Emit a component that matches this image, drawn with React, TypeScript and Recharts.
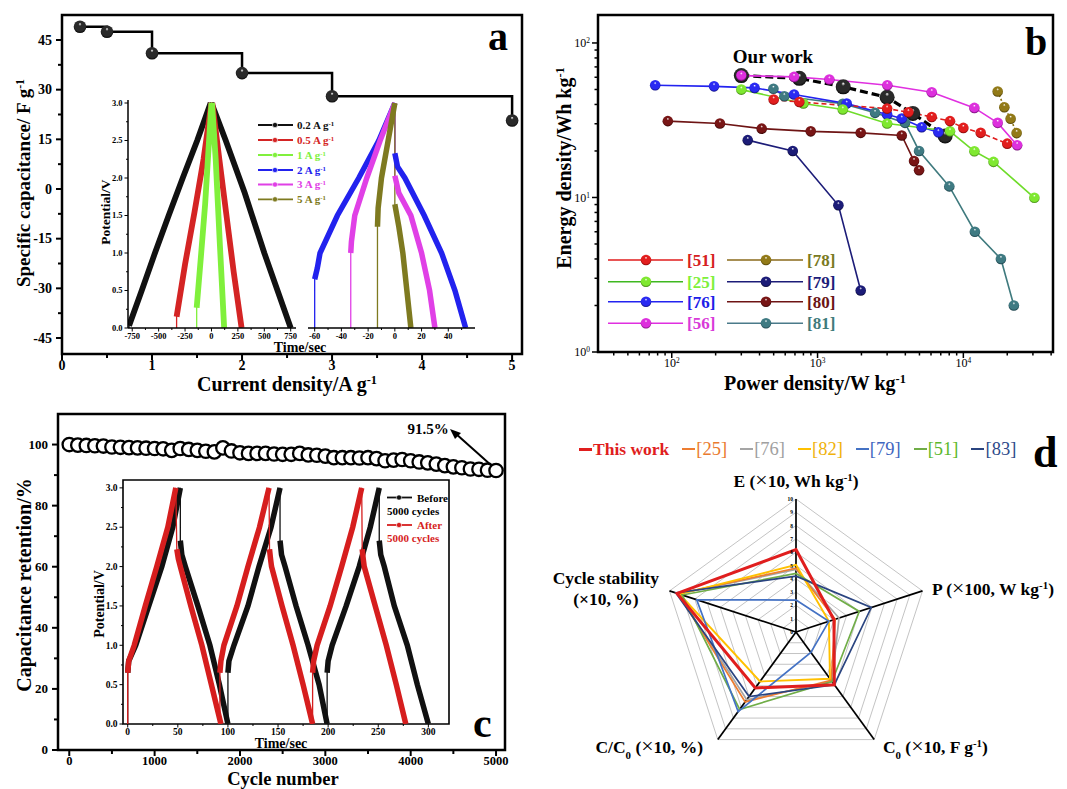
import React from 'react';
import {
  LineChart, Line, XAxis, YAxis, ReferenceArea,
  RadarChart, Radar, PolarGrid, PolarAngleAxis, PolarRadiusAxis,
} from 'recharts';

const SERIF = '"Liberation Serif", "Times New Roman", serif';

type P = [number, number];

/* ---------- (a) rate capability ---------- */
const currentDensity = [0.2, 0.5, 1, 2, 3, 5];
const specificCap = [49, 47.5, 41, 35, 28, 20.7];
const aXTicks = [0, 0.5, 1, 1.5, 2, 2.5, 3, 3.5, 4, 4.5, 5];
const aXMajor = [0, 1, 2, 3, 4, 5];
const aYTicks = [-45, -37.5, -30, -22.5, -15, -7.5, 0, 7.5, 15, 22.5, 30, 37.5, 45];
const aYMajor = [-45, -30, -15, 0, 15, 30, 45];

/* inset of (a): GCD curves, [time s, potential V] */
const gcdRates = ['0.2', '0.5', '1', '2', '3', '5'];
const gcd02Charge: P[] = [[-780, 0.03], [-660, 0.5], [-535, 1.0], [-405, 1.5], [-272, 2.0], [-135, 2.5], [-8, 3.0]];
const gcd02Discharge: P[] = [[0, 3.0], [135, 2.5], [315, 1.8], [500, 1.0], [750, 0.0]];
const gcd05Charge: P[] = [[-330, 0.15], [-250, 0.85], [-160, 1.55], [-75, 2.25], [0, 3.0]];
const gcd05Discharge: P[] = [[8, 3.0], [70, 2.3], [142, 1.5], [210, 0.75], [285, 0.0]];
const gcd1Charge: P[] = [[-140, 0.27], [-100, 0.95], [-60, 1.65], [-25, 2.45], [0, 3.0]];
const gcd1Discharge: P[] = [[5, 3.0], [40, 2.25], [80, 1.1], [120, 0.0]];
const gcd2Charge: P[] = [[-60, 0.65], [-58, 0.8], [-56, 1.0], [-43, 1.5], [-27, 2.0], [-12, 2.5], [0, 3.0]];
const gcd2Discharge: P[] = [[0, 2.33], [2, 2.15], [7.5, 2.0], [22, 1.5], [35, 1.0], [45, 0.5], [53, 0.0]];
const gcd3Charge: P[] = [[-33, 1.0], [-32.5, 1.15], [-30, 1.5], [-21, 2.0], [-11, 2.5], [0, 3.0]];
const gcd3Discharge: P[] = [[0, 2.03], [3, 1.8], [12, 1.5], [20, 1.0], [26, 0.5], [30, 0.0]];
const gcd5Charge: P[] = [[-13, 1.35], [-12.5, 1.6], [-10, 2.0], [-5, 2.5], [0, 3.0]];
const gcd5Discharge: P[] = [[0, 1.65], [3, 1.35], [6, 1.0], [9, 0.5], [12, 0.0]];
const insetLTicks = [-750, -625, -500, -375, -250, -125, 0, 125, 250, 375, 500, 625, 750];
const insetLMajor = [-750, -500, -250, 0, 250, 500, 750];
const insetRTicks = [-60, -50, -40, -30, -20, -10, 0, 10, 20, 30, 40, 50];
const insetRMajor = [-60, -40, -20, 0, 20, 40];
const potTicks = [0, 0.25, 0.5, 0.75, 1, 1.25, 1.5, 1.75, 2, 2.25, 2.5, 2.75, 3];
const potMajor = [0, 0.5, 1, 1.5, 2, 2.5, 3];

/* ---------- (b) Ragone plot, [W kg-1, Wh kg-1] ---------- */
const ourWork: P[] = [[300, 61.5], [750, 59], [1500, 52], [3000, 44.5], [4500, 35], [7500, 25]];
const ref51: P[] = [[500, 43], [750, 41.5], [3000, 37.6], [4200, 35.6], [6070, 33.2], [8100, 31.2], [10000, 28.2], [13150, 26.2], [20000, 22.3]];
const ref25: P[] = [[300, 49.9], [800, 40.6], [1490, 37.1], [3000, 30.1], [8100, 26.8], [11900, 19.9], [16100, 17], [30700, 9.95]];
const ref76: P[] = [[77, 53.2], [195, 52.4], [370, 51.2], [690, 46.4], [1585, 40.5], [3000, 34.4], [3780, 32.4], [5180, 28.5], [6740, 26.4]];
const ref56: P[] = [[300, 61.5], [690, 60.3], [1205, 58], [3010, 53.3], [6070, 48], [11900, 38], [17200, 30.4], [23400, 21.8]];
const ref78: P[] = [[17200, 48.5], [19100, 38.4], [21100, 32.3], [23200, 26.1]];
const ref79: P[] = [[332, 23.5], [676, 20], [1390, 8.9], [1977, 2.5]];
const ref80: P[] = [[94, 31.2], [214, 30.1], [414, 27.9], [898, 26.8], [1977, 26.2], [3780, 25.2], [4590, 17.2], [4970, 15]];
const ref81: P[] = [[498, 50.5], [592, 45.2], [1490, 40.4], [2480, 35.3], [3980, 30.4], [4970, 20], [8010, 11.8], [12000, 6], [18100, 4], [22200, 2]];
const bXTicks = [40, 50, 60, 70, 80, 90, 100, 200, 300, 400, 500, 600, 700, 800, 900, 1000, 2000, 3000, 4000, 5000, 6000, 7000, 8000, 9000, 10000, 20000, 30000, 40000];
const bXMajor = [100, 1000, 10000];
const bYTicks = [1, 2, 3, 4, 5, 6, 7, 8, 9, 10, 20, 30, 40, 50, 60, 70, 80, 90, 100];
const bYMajor = [1, 10, 100];

/* ---------- (c) cycling ---------- */
const cycleNo = [0, 100, 200, 300, 400, 500, 600, 700, 800, 900, 1000, 1100, 1200, 1300, 1400, 1500, 1600, 1700, 1800, 1900, 2000, 2100, 2200, 2300, 2400, 2500, 2600, 2700, 2800, 2900, 3000, 3100, 3200, 3300, 3400, 3500, 3600, 3700, 3800, 3900, 4000, 4100, 4200, 4300, 4400, 4500, 4600, 4700, 4800, 4900, 5000];
const retention = [100, 99.8, 99.7, 99.6, 99.5, 99.2, 99.1, 99.0, 98.9, 98.8, 98.7, 98.6, 98.1, 98.7, 98.4, 98.1, 97.8, 97.6, 98.9, 97.9, 97.3, 97.1, 97.1, 97.1, 96.9, 96.8, 96.8, 97.1, 96.6, 96.5, 96.2, 95.7, 95.7, 95.7, 95.6, 95.7, 95.4, 94.7, 94.9, 95.1, 94.7, 94.3, 94.0, 93.6, 93.1, 92.7, 92.4, 92.0, 91.9, 91.6, 91.5];
const cXTicks = [0, 500, 1000, 1500, 2000, 2500, 3000, 3500, 4000, 4500, 5000];
const cXMajor = [0, 1000, 2000, 3000, 4000, 5000];
const cYTicks = [0, 10, 20, 30, 40, 50, 60, 70, 80, 90, 100];
const cYMajor = [0, 20, 40, 60, 80, 100];

/* inset of (c): GCD before / after 5000 cycles, [time s, potential V] */
const before1Charge: P[] = [[0, 0.65], [1, 0.8], [8, 1.0], [21, 1.5], [34, 2.0], [45, 2.5], [52.5, 3.0]];
const before1Discharge: P[] = [[52.5, 2.33], [54, 2.15], [57.5, 2.0], [70, 1.5], [82, 1.0], [91.5, 0.5], [100, 0]];
const before2Charge: P[] = [[100, 0.65], [101, 0.8], [106, 1.0], [120, 1.5], [131, 2.0], [143, 2.5], [152, 3.0]];
const before2Discharge: P[] = [[152, 2.33], [153.5, 2.15], [157, 2.0], [168, 1.5], [180, 1.0], [191, 0.5], [199, 0]];
const before3Charge: P[] = [[199, 0.65], [200, 0.8], [204, 1.0], [218, 1.5], [231, 2.0], [242, 2.5], [251, 3.0]];
const before3Discharge: P[] = [[251, 2.33], [252.5, 2.15], [256, 2.0], [266, 1.5], [279, 1.0], [289, 0.5], [300, 0]];
const after1Charge: P[] = [[0, 0.65], [1, 0.8], [6.5, 1.0], [17.5, 1.5], [29, 2.0], [40, 2.5], [48, 3.0]];
const after1Discharge: P[] = [[49, 2.22], [50.5, 2.1], [52.5, 2.0], [63, 1.5], [74, 1.0], [83.5, 0.5], [93, 0]];
const after2Charge: P[] = [[92, 0.65], [93, 0.8], [96, 1.0], [109, 1.5], [120, 2.0], [131.5, 2.5], [141, 3.0]];
const after2Discharge: P[] = [[141.5, 2.22], [142.5, 2.1], [143.5, 2.0], [154, 1.5], [165, 1.0], [175, 0.5], [184.5, 0]];
const after3Charge: P[] = [[184.5, 0.65], [185.5, 0.8], [189, 1.0], [202, 1.5], [213.5, 2.0], [224.5, 2.5], [233.5, 3.0]];
const after3Discharge: P[] = [[234, 2.22], [235, 2.1], [236, 2.0], [247, 1.5], [258, 1.0], [268, 0.5], [277.5, 0]];
const icXTicks = [0, 25, 50, 75, 100, 125, 150, 175, 200, 225, 250, 275, 300];
const icXMajor = [0, 50, 100, 150, 200, 250, 300];

/* ---------- (d) radar ---------- */
const radarAxes = ['E', 'P', 'C0', 'C/C0', 'CS'];
const rThisWork = [6.2, 3.0, 4.9, 5.2, 9.4];
const r25 = [4.8, 3.1, 4.5, 6.5, 9.3];
const r76 = [4.7, 3.4, 4.6, 6.3, 9.3];
const r82 = [5.05, 2.6, 4.35, 4.6, 9.2];
const r79 = [2.4, 2.6, 1.9, 7.4, 7.85];
const r51 = [4.4, 5.0, 4.6, 7.2, 9.0];
const r83 = [4.2, 5.95, 4.9, 6.0, 9.5];
const radarTicks = [0, 1, 2, 3, 4, 5, 6, 7, 8, 9, 10];

/* ---------- helpers ---------- */
const pts = (a: P[]) => a.map(([t, v]) => ({ t, v } as { t: number; v: number | null }));
const thin = (c: P[], d: P[]) => pts([[c[0][0], 0], ...c, ...d]);
const thick = (c: P[], d: P[]) => [...pts(c), { t: c[c.length - 1][0], v: null }, ...pts(d)];
const cyclesThin = (cy: P[][][]) => cy.flatMap(([c, d]) => thin(c, d));
const cyclesThick = (cy: P[][][]) => cy.flatMap(([c, d]) => [...thick(c, d), { t: d[d.length - 1][0], v: null }]);
const pe = (a: P[]) => a.map(([p, e]) => ({ p, e }));
const isIn = (arr: number[], v: number) => arr.some((m) => Math.abs(m - v) < 1e-6);

const capData = currentDensity.map((x, i) => ({ x, c: specificCap[i] }));
const retData = cycleNo.map((n, i) => ({ n, r: retention[i] }));
const radarData = radarAxes.map((a, i) => ({
  axis: a, tw: rThisWork[i], r25: r25[i], r76: r76[i], r82: r82[i], r79: r79[i], r51: r51[i], r83: r83[i],
}));

const gcdLeft = [
  { c: gcd02Charge, d: gcd02Discharge, color: '#111111' },
  { c: gcd05Charge, d: gcd05Discharge, color: '#d42424' },
  { c: gcd1Charge, d: gcd1Discharge, color: '#80f03c' },
];
const gcdRight = [
  { c: gcd2Charge, d: gcd2Discharge, color: '#2222ee' },
  { c: gcd3Charge, d: gcd3Discharge, color: '#e040e6' },
  { c: gcd5Charge, d: gcd5Discharge, color: '#7e7a20' },
];
const gcdColors = ['#111111', '#d42424', '#80f03c', '#2222ee', '#e040e6', '#7e7a20'];

const beforeCycles = [[before1Charge, before1Discharge], [before2Charge, before2Discharge], [before3Charge, before3Discharge]];
const afterCycles = [[after1Charge, after1Discharge], [after2Charge, after2Discharge], [after3Charge, after3Discharge]];

const palette: Record<string, [string, string]> = {
  black: ['#2a2a2a', '#000000'],
  red: ['#e21e1e', '#700000'],
  green: ['#7fe830', '#2e6a08'],
  blue: ['#2a2af2', '#08086a'],
  magenta: ['#dd30dd', '#600060'],
  olive: ['#927a18', '#3c3000'],
  navy: ['#1c1c78', '#05052a'],
  maroon: ['#781616', '#2a0000'],
  teal: ['#3f7a82', '#10303a'],
};

const bSeries = [
  { name: 'Our work', data: ourWork, line: '#000', w: 3.2, dash: '8 4', ball: 'black', r: 7.5 },
  { name: '[80]', data: ref80, line: '#6e1414', w: 1.6, dash: undefined, ball: 'maroon', r: 5.3 },
  { name: '[79]', data: ref79, line: '#1c1c78', w: 1.6, dash: undefined, ball: 'navy', r: 5.3 },
  { name: '[81]', data: ref81, line: '#3f7a7e', w: 1.6, dash: undefined, ball: 'teal', r: 5.3 },
  { name: '[76]', data: ref76, line: '#2323f0', w: 1.6, dash: undefined, ball: 'blue', r: 5.3 },
  { name: '[25]', data: ref25, line: '#6fdc2a', w: 1.6, dash: undefined, ball: 'green', r: 5.3 },
  { name: '[51]', data: ref51, line: '#e01c1c', w: 1.6, dash: '5 3', ball: 'red', r: 5.3 },
  { name: '[78]', data: ref78, line: '#8a7416', w: 1.6, dash: '2 2', ball: 'olive', r: 5.3 },
  { name: '[56]', data: ref56, line: '#e030e0', w: 1.6, dash: undefined, ball: 'magenta', r: 5.3 },
];
const bLegend = [
  { name: '[51]', line: '#e01c1c', ball: 'red', text: '#d62020' },
  { name: '[25]', line: '#3fb820', ball: 'green', text: '#7ef03a' },
  { name: '[76]', line: '#2323f0', ball: 'blue', text: '#2020e8' },
  { name: '[56]', line: '#e030e0', ball: 'magenta', text: '#d83ad8' },
  { name: '[78]', line: '#8a6a1a', ball: 'olive', text: '#7a7a22' },
  { name: '[79]', line: '#1c1c78', ball: 'navy', text: '#1e1e7a' },
  { name: '[80]', line: '#6e1414', ball: 'maroon', text: '#6b1515' },
  { name: '[81]', line: '#4a7a8a', ball: 'teal', text: '#3f7b7b' },
];

const radarSeries = [
  { key: 'r76', name: '[76]', color: '#a5a5a5', text: '#a0a0a0', w: 1.7 },
  { key: 'r25', name: '[25]', color: '#ed7d31', text: '#ea7a2e', w: 1.7 },
  { key: 'r82', name: '[82]', color: '#ffc000', text: '#f0b20a', w: 1.9 },
  { key: 'r51', name: '[51]', color: '#70ad47', text: '#5cb82c', w: 1.7 },
  { key: 'r79', name: '[79]', color: '#4472c4', text: '#3f66c0', w: 1.7 },
  { key: 'r83', name: '[83]', color: '#2a4480', text: '#2e4a8a', w: 1.7 },
  { key: 'tw', name: 'This work', color: '#e01e1e', text: '#e01e1e', w: 3 },
];
const radarLegendOrder = ['tw', 'r25', 'r76', 'r82', 'r79', 'r51', 'r83'];

/* ---------- tick renderers ---------- */
type TickCfg = { majors: number[]; fs: number; len?: number; minorLen?: number; sw?: number; weight?: string; gap?: number; fmt?: (v: number) => React.ReactNode };

const BottomTick = (cfg: TickCfg) => (p: any) => {
  const v = p.payload.value;
  const major = isIn(cfg.majors, v);
  const len = cfg.len ?? 6;
  return (
    <g>
      <line x1={p.x} x2={p.x} y1={p.y} y2={p.y + (major ? len : cfg.minorLen ?? len / 2)} stroke="#000" strokeWidth={cfg.sw ?? 1.5} />
      {major && (
        <text x={p.x} y={p.y + len + (cfg.gap ?? 2) + cfg.fs * 0.72} textAnchor="middle" fontFamily={SERIF} fontSize={cfg.fs} fontWeight={cfg.weight ?? 'bold'} fill="#000">
          {cfg.fmt ? cfg.fmt(v) : v}
        </text>
      )}
    </g>
  );
};

const LeftTick = (cfg: TickCfg) => (p: any) => {
  const v = p.payload.value;
  const major = isIn(cfg.majors, v);
  const len = cfg.len ?? 6;
  return (
    <g>
      <line x1={p.x} x2={p.x - (major ? len : cfg.minorLen ?? len / 2)} y1={p.y} y2={p.y} stroke="#000" strokeWidth={cfg.sw ?? 1.5} />
      {major && (
        <text x={p.x - len - (cfg.gap ?? 3)} y={p.y + cfg.fs * 0.34} textAnchor="end" fontFamily={SERIF} fontSize={cfg.fs} fontWeight={cfg.weight ?? 'bold'} fill="#000">
          {cfg.fmt ? cfg.fmt(v) : v}
        </text>
      )}
    </g>
  );
};

const Sup = ({ c }: { c: string }) => <tspan baselineShift="super" fontSize="62%">{c}</tspan>;
const Sub = ({ c }: { c: string }) => <tspan baselineShift="sub" fontSize="62%">{c}</tspan>;
const Times = () => <tspan fontWeight="normal" fontSize="125%">×</tspan>;
const logFmt = (v: number) => <>10<Sup c={String(Math.round(Math.log10(v)))} /></>;
const fix1 = (v: number) => v.toFixed(1);

const BallDot = (id: string, r: number) => (p: any) =>
  p.cx == null || p.cy == null ? <g key={p.index} /> : <circle key={p.index} cx={p.cx} cy={p.cy} r={r} fill={`url(#ball-${id})`} />;

const HollowDot = (p: any) =>
  p.cx == null ? <g key={p.index} /> : <circle key={p.index} cx={p.cx} cy={p.cy} r={6.7} fill="#fff" stroke="#000" strokeWidth={2.3} />;

const abs = (left: number, top: number): React.CSSProperties => ({ position: 'absolute', left, top });
const noTick = { tickSize: 0, tickMargin: 0, tickLine: false, interval: 0 as const, allowDataOverflow: true };

/* ---------- panels ---------- */
const PanelA = () => (
  <div style={abs(0, 0)}>
    <LineChart width={540} height={400} data={capData} margin={{ top: 15, right: 18, bottom: 0, left: 0 }}>
      <XAxis dataKey="x" type="number" domain={[0, 5.11]} ticks={aXTicks} height={46} axisLine={false} {...noTick}
        tick={BottomTick({ majors: aXMajor, fs: 14, len: 6, minorLen: 4, sw: 2, gap: 0 })} />
      <YAxis type="number" domain={[-49.83, 52.55]} ticks={aYTicks} width={62} axisLine={false} {...noTick}
        tick={LeftTick({ majors: aYMajor, fs: 14, len: 6, minorLen: 4, sw: 2, gap: 4 })} />
      <ReferenceArea x1={0} x2={5.11} y1={-49.83} y2={52.55} fill="none" stroke="#000" strokeWidth={2.5} ifOverflow="visible" />
      <Line type="stepAfter" dataKey="c" stroke="#000" strokeWidth={2.5} dot={BallDot('black', 6.3)} isAnimationActive={false} />
    </LineChart>
  </div>
);

const InsetA = () => (
  <>
    <div style={abs(90, 90)}>
      <LineChart width={215} height={262} margin={{ top: 10, right: 9, bottom: 0, left: 0 }}>
        <XAxis dataKey="t" type="number" domain={[-790, 800]} ticks={insetLTicks} height={24} {...noTick}
          axisLine={{ stroke: '#000', strokeWidth: 1.5 }}
          tick={BottomTick({ majors: insetLMajor, fs: 8.5, len: 3.5, minorLen: 2, sw: 1, gap: 1 })} />
        <YAxis type="number" domain={[0, 3.04]} ticks={potTicks} width={38} {...noTick}
          axisLine={{ stroke: '#000', strokeWidth: 1.5 }}
          tick={LeftTick({ majors: potMajor, fs: 8.5, len: 3.5, minorLen: 2, sw: 1, gap: 2, fmt: fix1 })} />
        {gcdLeft.map((s, i) => (
          <Line key={'thin' + i} data={thin(s.c, s.d)} dataKey="v" stroke={s.color} strokeWidth={1.3} dot={false} isAnimationActive={false} />
        ))}
        {gcdLeft.map((s, i) => (
          <Line key={'thick' + i} data={thick(s.c, s.d)} dataKey="v" stroke={s.color} strokeWidth={5.8} dot={false} isAnimationActive={false} />
        ))}
      </LineChart>
    </div>
    <div style={abs(300, 90)}>
      <LineChart width={185} height={262} margin={{ top: 10, right: 10, bottom: 0, left: 8 }}>
        <XAxis dataKey="t" type="number" domain={[-65, 60]} ticks={insetRTicks} height={24} {...noTick}
          axisLine={{ stroke: '#000', strokeWidth: 1.5 }}
          tick={BottomTick({ majors: insetRMajor, fs: 8.5, len: 3.5, minorLen: 2, sw: 1, gap: 1 })} />
        <YAxis type="number" domain={[0, 3.04]} hide allowDataOverflow />
        {gcdRight.map((s, i) => (
          <Line key={'thin' + i} data={thin(s.c, s.d)} dataKey="v" stroke={s.color} strokeWidth={1.3} dot={false} isAnimationActive={false} />
        ))}
        {gcdRight.map((s, i) => (
          <Line key={'thick' + i} data={thick(s.c, s.d)} dataKey="v" stroke={s.color} strokeWidth={5.5} dot={false} isAnimationActive={false} />
        ))}
      </LineChart>
    </div>
  </>
);

const PanelB = () => (
  <div style={abs(540, 0)}>
    <LineChart width={527} height={400} margin={{ top: 15, right: 14, bottom: 0, left: 0 }}>
      <XAxis dataKey="p" type="number" scale="log" domain={[31.2, 41200]} ticks={bXTicks} height={48} axisLine={false} {...noTick}
        tick={BottomTick({ majors: bXMajor, fs: 12, len: 6, minorLen: 3.5, sw: 1.5, gap: 0, weight: 'normal', fmt: logFmt })} />
      <YAxis type="number" scale="log" domain={[1, 151.7]} ticks={bYTicks} width={58} axisLine={false} {...noTick}
        tick={LeftTick({ majors: bYMajor, fs: 12, len: 6, minorLen: 3.5, sw: 1.5, gap: 2, weight: 'normal', fmt: logFmt })} />
      <ReferenceArea x1={31.2} x2={41200} y1={1} y2={151.7} fill="none" stroke="#000" strokeWidth={2.5} ifOverflow="visible" />
      {bSeries.map((s) => (
        <Line key={s.name} name={s.name} data={pe(s.data)} dataKey="e" stroke={s.line} strokeWidth={s.w} strokeDasharray={s.dash}
          dot={BallDot(s.ball, s.r)} isAnimationActive={false} />
      ))}
    </LineChart>
  </div>
);

const PanelC = () => (
  <div style={abs(0, 400)}>
    <LineChart width={540} height={389} data={retData} margin={{ top: 14, right: 35, bottom: 0, left: 0 }}>
      <XAxis dataKey="n" type="number" domain={[-132, 5105]} ticks={cXTicks} height={39} axisLine={false} {...noTick}
        tick={BottomTick({ majors: cXMajor, fs: 12.5, len: 6, minorLen: 4, sw: 2, gap: 0 })} />
      <YAxis type="number" domain={[0, 110]} ticks={cYTicks} width={58} axisLine={false} {...noTick}
        tick={LeftTick({ majors: cYMajor, fs: 13, len: 6, minorLen: 4, sw: 2, gap: 4 })} />
      <ReferenceArea x1={-132} x2={5105} y1={0} y2={110} fill="none" stroke="#000" strokeWidth={2.5} ifOverflow="visible" />
      <Line dataKey="r" stroke="none" dot={HollowDot} isAnimationActive={false} />
    </LineChart>
  </div>
);

const InsetC = () => (
  <div style={abs(80, 470)}>
    <LineChart width={380} height={280} margin={{ top: 10, right: 11, bottom: 0, left: 0 }}>
      <XAxis dataKey="t" type="number" domain={[-4.7, 320.6]} ticks={icXTicks} height={26} axisLine={false} {...noTick}
        tick={BottomTick({ majors: icXMajor, fs: 9.5, len: 3.5, minorLen: 2, sw: 1, gap: 1 })} />
      <YAxis type="number" domain={[0, 3.1]} ticks={potTicks} width={43} axisLine={false} {...noTick}
        tick={LeftTick({ majors: potMajor, fs: 9.5, len: 3.5, minorLen: 2, sw: 1, gap: 2, fmt: fix1 })} />
      <ReferenceArea x1={-4.7} x2={320.6} y1={0} y2={3.1} fill="none" stroke="#000" strokeWidth={1.6} ifOverflow="visible" />
      <Line data={cyclesThin(beforeCycles)} dataKey="v" stroke="#111" strokeWidth={1.3} dot={false} isAnimationActive={false} />
      <Line data={cyclesThick(beforeCycles)} dataKey="v" stroke="#111" strokeWidth={5.5} dot={false} isAnimationActive={false} />
      <Line data={cyclesThin(afterCycles)} dataKey="v" stroke="#d61e1e" strokeWidth={1.3} dot={false} isAnimationActive={false} />
      <Line data={cyclesThick(afterCycles)} dataKey="v" stroke="#d61e1e" strokeWidth={5.5} dot={false} isAnimationActive={false} />
    </LineChart>
  </div>
);

const RadarLabel = (p: any) => {
  const v = p.payload.value;
  const st = { fontFamily: SERIF, fontWeight: 'bold' as const, fontSize: 17.5, fill: '#000' };
  if (v === 'E') return <text x={p.x} y={p.y - 4} textAnchor="middle" {...st}>E (<Times />10, Wh kg<Sup c="-1" />)</text>;
  if (v === 'P') return <text x={p.x + 2} y={p.y + 7} textAnchor="start" {...st}>P (<Times />100, W kg<Sup c="-1" />)</text>;
  if (v === 'C0') return <text x={p.x + 4} y={p.y + 7} textAnchor="start" {...st}>C<Sub c="0" /> (<Times />10, F g<Sup c="-1" />)</text>;
  if (v === 'C/C0') return <text x={p.x - 10} y={p.y + 7} textAnchor="end" {...st}>C/C<Sub c="0" /> (<Times />10, %)</text>;
  return (
    <text textAnchor="middle" {...st}>
      <tspan x={p.x - 56} y={p.y - 4}>Cycle stability</tspan>
      <tspan x={p.x - 56} y={p.y + 17}>(×10, %)</tspan>
    </text>
  );
};

const PanelD = () => (
  <div style={abs(540, 430)}>
    <RadarChart width={527} height={359} data={radarData} cx={256} cy={202} outerRadius={133}>
      <PolarGrid gridType="polygon" stroke="#c4c4c4" strokeWidth={1} radialLines={false} />
      <PolarGrid gridType="polygon" stroke="#000" strokeWidth={1.7} polarRadius={[0]} />
      <PolarAngleAxis dataKey="axis" tick={RadarLabel} tickLine={false} axisLine={false} tickSize={8} />
      <PolarRadiusAxis angle={90} domain={[0, 10]} ticks={radarTicks} tickCount={11} axisLine={false} tickLine={false}
        tick={(p: any) => (
          <text x={p.x - 3} y={p.y + 2} textAnchor="end" fontFamily={SERIF} fontWeight="bold" fontSize={5.5} fill="#000">{p.payload.value}</text>
        )} />
      {radarSeries.map((s) => (
        <Radar key={s.key} name={s.name} dataKey={s.key} stroke={s.color} strokeWidth={s.w} fill="none" fillOpacity={0} dot={false} isAnimationActive={false} />
      ))}
    </RadarChart>
  </div>
);

/* ---------- texts, legends, letters ---------- */
const B = (props: any) => <text fontFamily={SERIF} fontWeight="bold" fill="#000" {...props} />;

const Overlay = () => {
  const bRows = [260, 281.7, 301.7, 323.3];
  const aRows = [125, 140, 155, 170, 184.5, 199.3];
  return (
    <svg width={1067} height={789} style={{ position: 'absolute', left: 0, top: 0, pointerEvents: 'none' }}>
      <defs>
        {Object.entries(palette).map(([k, [c, d]]) => (
          <radialGradient key={k} id={`ball-${k}`} cx="0.5" cy="0.45" r="0.58" fx="0.5" fy="0.27">
            <stop offset="0" stopColor="#ffffff" />
            <stop offset="0.22" stopColor={c} />
            <stop offset="0.75" stopColor={c} />
            <stop offset="1" stopColor={d} />
          </radialGradient>
        ))}
      </defs>

      {/* (a) */}
      <B x={488} y={50} fontSize={40}>a</B>
      <B transform="translate(30,183) rotate(-90)" textAnchor="middle" fontSize={19}>Specific capacitance/ F g<Sup c="-1" /></B>
      <B x={287} y={391} textAnchor="middle" fontSize={20}>Current density/A g<Sup c="-1" /></B>
      <B transform="translate(110,212) rotate(-90)" textAnchor="middle" fontSize={13.5}>Potential/V</B>
      <B x={300} y={352} textAnchor="middle" fontSize={14}>Time/sec</B>
      {gcdRates.map((r, i) => (
        <g key={r}>
          <line x1={258} x2={293} y1={aRows[i]} y2={aRows[i]} stroke={gcdColors[i]} strokeWidth={1.8} />
          <circle cx={275} cy={aRows[i]} r={2.6} fill={gcdColors[i]} stroke="#fff" strokeWidth={0.6} />
          <B x={297} y={aRows[i] + 3.8} fontSize={11} fill={gcdColors[i]}>{r} A g<Sup c="-1" /></B>
        </g>
      ))}

      {/* (b) */}
      <B x={1025} y={55} fontSize={40}>b</B>
      <B transform="translate(571,168) rotate(-90)" textAnchor="middle" fontSize={20}>Energy density/Wh kg<Sup c="-1" /></B>
      <B x={815} y={390} textAnchor="middle" fontSize={20}>Power density/W kg<Sup c="-1" /></B>
      <B x={773} y={63} textAnchor="middle" fontSize={19}>Our work</B>
      {bLegend.map((s, i) => {
        const y = bRows[i % 4];
        const [x1, x2, bx, tx] = i < 4 ? [608, 683, 646, 687] : [727, 803, 766, 807];
        return (
          <g key={s.name}>
            <line x1={x1} x2={x2} y1={y} y2={y} stroke={s.line} strokeWidth={1.6} />
            <circle cx={bx} cy={y} r={5.3} fill={`url(#ball-${s.ball})`} />
            <B x={tx} y={y + 6} fontSize={17} fill={s.text}>{s.name}</B>
          </g>
        );
      })}

      {/* (c) */}
      <B x={473} y={737} fontSize={42}>c</B>
      <B transform="translate(31,585) rotate(-90)" textAnchor="middle" fontSize={20}>Capacitance retention/%</B>
      <B x={283} y={785} textAnchor="middle" fontSize={18.5}>Cycle number</B>
      <B x={428} y={434} textAnchor="middle" fontSize={15}>91.5%</B>
      <line x1={492} y1={466} x2={455} y2={433} stroke="#000" strokeWidth={2} />
      <polygon points="450,429 461,433 455,439" fill="#000" />
      <B transform="translate(104,604) rotate(-90)" textAnchor="middle" fontSize={14}>Potential/V</B>
      <B x={281} y={748} textAnchor="middle" fontSize={14}>Time/sec</B>
      <line x1={387} x2={412} y1={497.5} y2={497.5} stroke="#111" strokeWidth={1.8} />
      <circle cx={399} cy={497.5} r={2.6} fill="#111" stroke="#fff" strokeWidth={0.6} />
      <B x={417} y={501.5} fontSize={11}>Before</B>
      <B x={387} y={514.5} fontSize={11}>5000 cycles</B>
      <line x1={387} x2={412} y1={525} y2={525} stroke="#d61e1e" strokeWidth={1.8} />
      <circle cx={399} cy={525} r={2.6} fill="#d61e1e" stroke="#fff" strokeWidth={0.6} />
      <B x={417} y={529} fontSize={11} fill="#d61e1e">After</B>
      <B x={387} y={541.5} fontSize={11} fill="#d61e1e">5000 cycles</B>

      {/* (d) */}
      <B x={1033} y={467} fontSize={44}>d</B>
    </svg>
  );
};

const LegendD = () => (
  <div style={{ position: 'absolute', left: 579, top: 438, display: 'flex', alignItems: 'center', gap: 13, fontFamily: SERIF, fontSize: 18, lineHeight: '22px' }}>
    {radarLegendOrder.map((k) => {
      const s = radarSeries.find((r) => r.key === k)!;
      return (
        <div key={k} style={{ display: 'flex', alignItems: 'center' }}>
          <span style={{ display: 'inline-block', width: 13, height: s.w > 2 ? 3 : 1.5, background: s.color, marginRight: 1 }} />
          <span style={{ color: s.text, fontWeight: k === 'tw' ? 'bold' : 'normal', fontSize: k === 'tw' ? 17.5 : 18.5 }}>{s.name}</span>
        </div>
      );
    })}
  </div>
);

export default function App() {
  return (
    <div style={{ position: 'absolute', left: 0, top: 0, width: 1067, height: 789, background: '#fff', overflow: 'hidden' }}>
      <PanelA />
      <InsetA />
      <PanelB />
      <PanelC />
      <InsetC />
      <PanelD />
      <LegendD />
      <Overlay />
    </div>
  );
}
